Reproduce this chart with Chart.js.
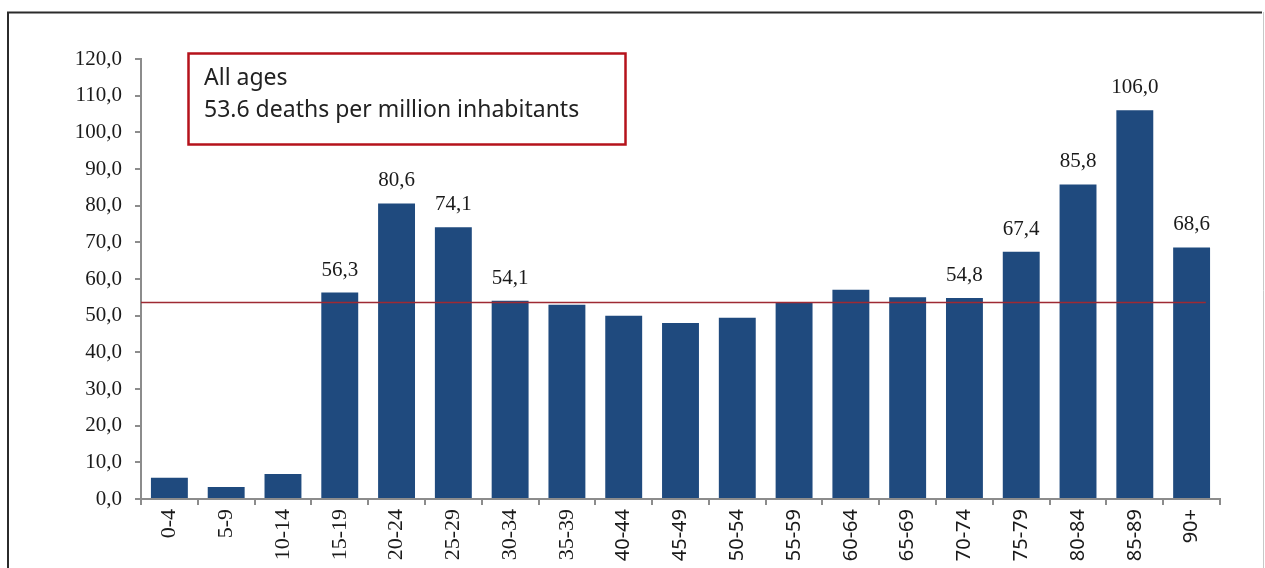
<!DOCTYPE html>
<html>
<head>
<meta charset="utf-8">
<script src="https://cdn.jsdelivr.net/npm/chart.js@4/dist/chart.umd.min.js"></script>
<style>
  html, body { margin: 0; padding: 0; background: #ffffff; }
  #wrap { position: relative; width: 1265px; height: 568px; overflow: hidden; }
</style>
</head>
<body>
<div id="wrap"><canvas id="c" width="1265" height="568"></canvas></div>
<script>
// Age groups and death rates (deaths per million inhabitants)
const ageGroups = ["0-4", "5-9", "10-14", "15-19", "20-24", "25-29", "30-34", "35-39",
                   "40-44", "45-49", "50-54", "55-59", "60-64", "65-69", "70-74",
                   "75-79", "80-84", "85-89", "90+"];
const deathRates = [5.8, 3.3, 6.8, 56.3, 80.6, 74.1, 54.1, 53.0,
                    50.0, 48.0, 49.4, 53.5, 57.1, 55.0, 54.8,
                    67.4, 85.8, 106.0, 68.6];
// Which bars carry a printed value
const showValue = [false, false, false, true, true, true, true, false,
                   false, false, false, false, false, false, true,
                   true, true, true, true];
// Overall rate, all ages
const averageRate = 53.6;
const boxLines = ["All ages", "53.6 deaths per million inhabitants"];
// Axis range
const yMin = 0, yMax = 120, yStep = 10;

const SERIF = "'Liberation Serif', 'Times New Roman', serif";
const SANS = "'Noto Sans', 'Open Sans', sans-serif";
const fmt = v => v.toFixed(1).replace('.', ',');

const decorations = {
  id: 'decorations',
  beforeDraw(chart) {
    const ctx = chart.ctx;
    ctx.save();
    ctx.fillStyle = '#ffffff';
    ctx.fillRect(0, 0, chart.width, chart.height);
    // outer frame
    ctx.strokeStyle = '#2b2b2b';
    ctx.lineWidth = 2;
    ctx.beginPath();
    ctx.moveTo(8, 600); ctx.lineTo(8, 12.5); ctx.lineTo(1262, 12.5);
    ctx.stroke();
    ctx.strokeStyle = '#c8c8c8';
    ctx.lineWidth = 1;
    ctx.beginPath();
    ctx.moveTo(1263.5, 12); ctx.lineTo(1263.5, 600);
    ctx.stroke();
    ctx.restore();
  },
  afterDatasetsDraw(chart) {
    const ctx = chart.ctx;
    const x = chart.scales.x, y = chart.scales.y;
    const meta = chart.getDatasetMeta(0);
    ctx.save();

    // overall average line
    const yAvg = y.getPixelForValue(averageRate);
    const catW = (x.right - x.left) / ageGroups.length;
    const xEnd = x.getPixelForValue(ageGroups.length - 1) + catW * 0.25;
    ctx.strokeStyle = '#9e2a33';
    ctx.lineWidth = 1.6;
    ctx.beginPath();
    ctx.moveTo(chart.chartArea.left, yAvg);
    ctx.lineTo(xEnd, yAvg);
    ctx.stroke();

    // value labels above selected bars
    ctx.fillStyle = '#1a1a1a';
    ctx.font = '21px ' + SERIF;
    ctx.textAlign = 'center';
    ctx.textBaseline = 'alphabetic';
    meta.data.forEach((bar, i) => {
      if (!showValue[i]) return;
      ctx.fillText(fmt(deathRates[i]), bar.x, bar.y - 17);
    });

    // annotation box
    ctx.strokeStyle = '#b5121b';
    ctx.lineWidth = 2.5;
    ctx.strokeRect(188.5, 53.5, 437, 91);
    ctx.fillStyle = '#222222';
    ctx.font = '23px ' + SANS;
    ctx.textAlign = 'left';
    ctx.fillText(boxLines[0], 204, 85);
    ctx.fillText(boxLines[1], 204, 117);
    ctx.restore();
  }
};

new Chart(document.getElementById('c'), {
  type: 'bar',
  data: {
    labels: ageGroups,
    datasets: [{
      data: deathRates,
      backgroundColor: '#1f4a7e',
      borderWidth: 0,
      barPercentage: 0.65,
      categoryPercentage: 1.0
    }]
  },
  options: {
    responsive: false,
    animation: false,
    layout: { padding: { top: 59, right: 45, left: 0, bottom: 0 } },
    plugins: { legend: { display: false }, tooltip: { enabled: false } },
    scales: {
      x: {
        grid: { display: true, drawOnChartArea: false, drawTicks: true, tickLength: 6, color: '#8c8c8c', lineWidth: 2, offset: true },
        border: { display: true, color: '#8c8c8c', width: 2 },
        ticks: {
          minRotation: 90, maxRotation: 90, autoSkip: false, padding: 4,
          color: '#1a1a1a',
          font: ctx => (ctx.index <= 7 ? { family: SERIF, size: 22 } : { family: SANS, size: 20 })
        },
        afterFit(scale) { scale.height = 69; }
      },
      y: {
        min: yMin, max: yMax,
        grid: { display: true, drawOnChartArea: false, drawTicks: true, tickLength: 6, color: '#8c8c8c', lineWidth: 2 },
        border: { display: true, color: '#8c8c8c', width: 2 },
        ticks: {
          stepSize: yStep, padding: 13, color: '#1a1a1a',
          font: { family: SERIF, size: 21 },
          callback: v => fmt(v)
        },
        afterFit(scale) { scale.width = 141; }
      }
    }
  },
  plugins: [decorations]
});
</script>
</body>
</html>
